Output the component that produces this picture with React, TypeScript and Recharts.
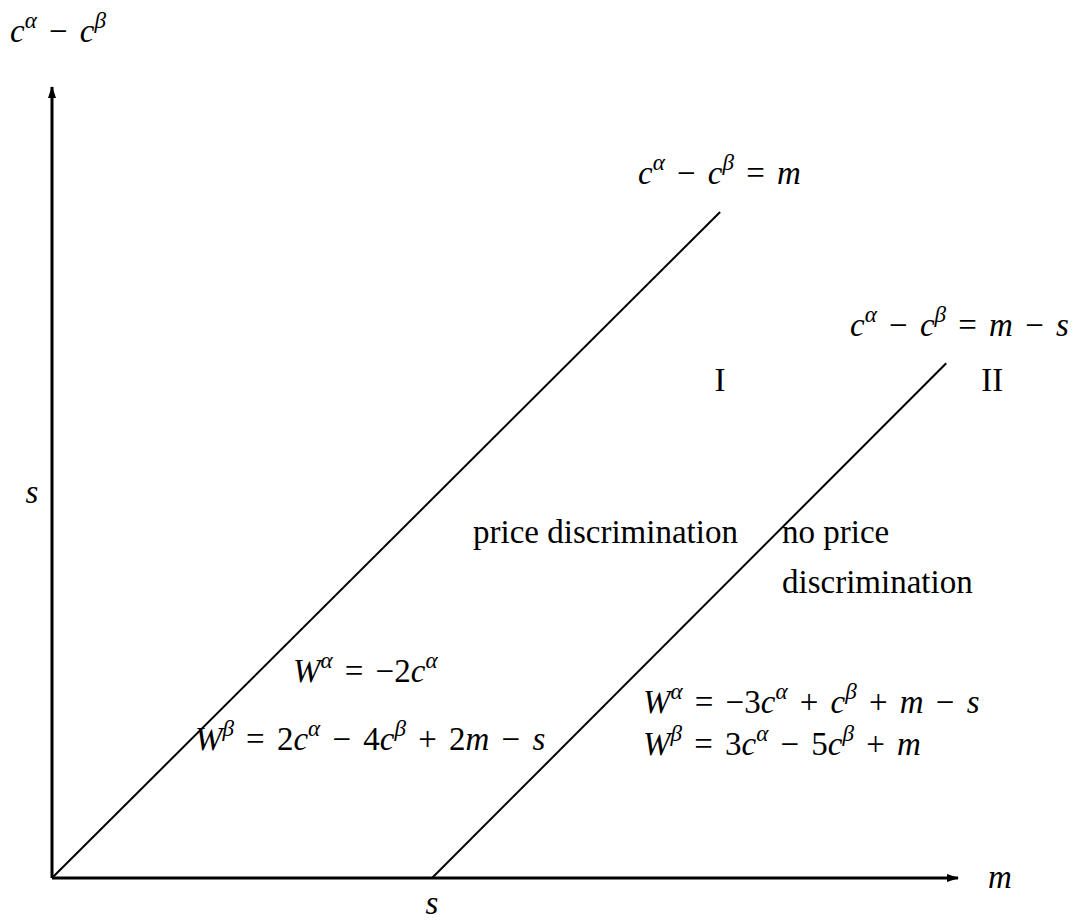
import { ComposedChart, Line, XAxis, YAxis, ReferenceDot, Label } from 'recharts';

// boundary c^α − c^β = m
const boundaryM = [0, 1.758];
const boundaryGap = [0, 1.753];
// boundary c^α − c^β = m − s
const shiftedM = [1, 2.353];
const shiftedGap = [0, 1.355];

const xTicks = [1];
const yTicks = [1];
const axisEnd = { m: 2.384, gap: 2.082 };

interface Note {
  text: string;
  m: number;
  gap: number;
  math: boolean;
  anchor?: 'start' | 'middle';
}

const notes: Note[] = [
  { text: 'c^α − c^β = m', m: 1.542, gap: 1.826, math: true },
  { text: 'c^α − c^β = m − s', m: 2.1, gap: 1.426, math: true },
  { text: 'I', m: 1.758, gap: 1.282, math: false, anchor: 'middle' },
  { text: 'II', m: 2.474, gap: 1.282, math: false, anchor: 'middle' },
  { text: 'price discrimination', m: 1.108, gap: 0.882, math: false },
  { text: 'no price', m: 1.921, gap: 0.882, math: false },
  { text: 'discrimination', m: 1.921, gap: 0.75, math: false },
  { text: 'W^α = −2c^α', m: 0.634, gap: 0.516, math: true },
  { text: 'W^β = 2c^α − 4c^β + 2m − s', m: 0.376, gap: 0.337, math: true },
  { text: 'W^α = −3c^α + c^β + m − s', m: 1.555, gap: 0.434, math: true },
  { text: 'W^β = 3c^α − 5c^β + m', m: 1.555, gap: 0.324, math: true },
];

const toRows = (xs: number[], ys: number[]) => xs.map((m, i) => ({ m, gap: ys[i] }));

const FONT = '"Liberation Serif", "Times New Roman", serif';
const SIZE = 33;

function mathSpans(src: string, size: number) {
  const out: JSX.Element[] = [];
  const rise = size * 0.42;
  let cur = 0;
  let gap = 0;
  for (let i = 0; i < src.length; i++) {
    let ch = src[i];
    if (ch === ' ') {
      gap += size * 0.37;
      continue;
    }
    let sup = false;
    if (ch === '^') {
      sup = true;
      ch = src[++i];
    }
    const target = sup ? -rise : 0;
    const dy = target - cur;
    cur = target;
    const italic = /[a-zA-Zα-ω]/.test(ch);
    out.push(
      <tspan
        key={i}
        dx={gap}
        dy={dy}
        fontSize={sup ? size * 0.7 : size}
        fontStyle={italic ? 'italic' : 'normal'}
      >
        {ch}
      </tspan>
    );
    gap = 0;
  }
  return out;
}

function NoteText({ x, y, note }: { x: number; y: number; note: Note }) {
  return (
    <text
      x={x}
      y={y}
      fontFamily={FONT}
      fontSize={SIZE}
      fill="#000"
      textAnchor={note.anchor ?? 'start'}
    >
      {note.math ? mathSpans(note.text, SIZE) : note.text}
    </text>
  );
}

function XTick(props: any) {
  return (
    <text x={props.x} y={914} textAnchor="middle" fontFamily={FONT} fontSize={SIZE} fontStyle="italic">
      s
    </text>
  );
}

function YTick(props: any) {
  return (
    <text x={32} y={props.y + 5} textAnchor="middle" fontFamily={FONT} fontSize={SIZE} fontStyle="italic">
      s
    </text>
  );
}

export default function App() {
  return (
    <div style={{ position: 'absolute', left: 0, top: 0, background: '#fff' }}>
      <svg width={0} height={0} style={{ position: 'absolute' }}>
        <defs>
          <marker
            id="arrowHead"
            viewBox="0 0 12 8"
            refX={11}
            refY={4}
            markerWidth={12}
            markerHeight={8}
            markerUnits="userSpaceOnUse"
            orient="auto-start-reverse"
          >
            <path d="M0,0 L12,4 L0,8 Z" fill="#000" />
          </marker>
        </defs>
      </svg>
      <ComposedChart width={1075} height={923} margin={{ top: 87, right: 117, bottom: 0, left: 0 }}>
        <XAxis
          type="number"
          dataKey="m"
          domain={[0, axisEnd.m]}
          ticks={xTicks}
          tickLine={false}
          tick={<XTick />}
          height={45}
          allowDataOverflow
          axisLine={{ stroke: '#000', strokeWidth: 3, markerEnd: 'url(#arrowHead)' }}
        >
          <Label
            content={({ viewBox }: any) => (
              <text x={viewBox.x + viewBox.width + 30} y={viewBox.y + 10} fontFamily={FONT} fontSize={SIZE} fontStyle="italic">
                m
              </text>
            )}
          />
        </XAxis>
        <YAxis
          type="number"
          dataKey="gap"
          domain={[0, axisEnd.gap]}
          ticks={yTicks}
          tickLine={false}
          tick={<YTick />}
          width={52}
          allowDataOverflow
          axisLine={{ stroke: '#000', strokeWidth: 3, markerStart: 'url(#arrowHead)' }}
        >
          <Label
            content={({ viewBox }: any) => (
              <text x={10} y={viewBox.y - 45} fontFamily={FONT} fontSize={SIZE}>
                {mathSpans('c^α − c^β', SIZE)}
              </text>
            )}
          />
        </YAxis>
        <Line
          data={toRows(boundaryM, boundaryGap)}
          dataKey="gap"
          stroke="#000"
          strokeWidth={2}
          dot={false}
          isAnimationActive={false}
        />
        <Line
          data={toRows(shiftedM, shiftedGap)}
          dataKey="gap"
          stroke="#000"
          strokeWidth={2}
          dot={false}
          isAnimationActive={false}
        />
        {notes.map((n, i) => (
          <ReferenceDot
            key={i}
            x={n.m}
            y={n.gap}
            r={0}
            stroke="none"
            fill="none"
            ifOverflow="visible"
            label={({ viewBox }: any) => <NoteText x={viewBox.x} y={viewBox.y} note={n} />}
          />
        ))}
      </ComposedChart>
    </div>
  );
}
